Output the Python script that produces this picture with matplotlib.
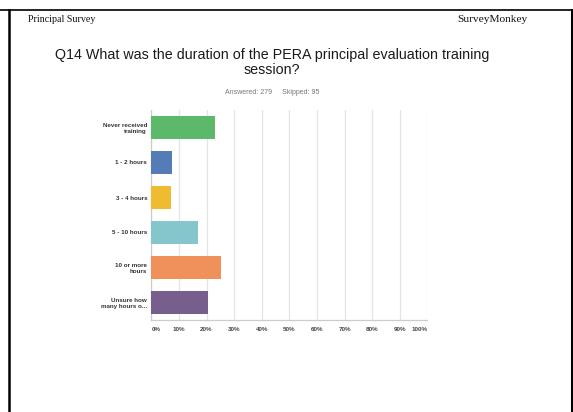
import matplotlib
matplotlib.use("Agg")
import matplotlib.pyplot as plt
from matplotlib.lines import Line2D

# Q14 response shares (answered 279, skipped 95)
answers = ["Never received\ntraining", "1 - 2 hours", "3 - 4 hours",
           "5 - 10 hours", "10 or more\nhours", "Unsure how\nmany hours o..."]
shares = [22.94, 7.53, 7.17, 16.85, 25.09, 20.43]
bar_colors = ["#5cb86b", "#547cb6", "#efbc31", "#84c6cb", "#f0915b", "#765f8c"]
pct_ticks = [0, 10, 20, 30, 40, 50, 60, 70, 80, 90, 100]

W, H = 573, 412
fig = plt.figure(figsize=(W / 100, H / 100), dpi=100)

# page frame
fig.add_artist(Line2D([0, 1], [1 - 10 / H, 1 - 10 / H], transform=fig.transFigure,
                      color="black", lw=1.2))
fig.add_artist(Line2D([8.5 / W, 8.5 / W], [0, 1 - 10 / H], transform=fig.transFigure,
                      color="black", lw=1.8))
fig.add_artist(Line2D([571.5 / W, 571.5 / W], [0, 1 - 10 / H], transform=fig.transFigure,
                      color="black", lw=2.2))

# page header
fig.text(28 / W, 1 - 19 / H, "Principal Survey", family="Liberation Serif",
         fontsize=7.2, ha="left", va="center", color="#111111")
fig.text(528 / W, 1 - 19 / H, "SurveyMonkey", family="Liberation Serif",
         fontsize=8.2, ha="right", va="center", color="#111111")

fig.text(272 / W, 1 - 55 / H,
         "Q14 What was the duration of the PERA principal evaluation training",
         family="Liberation Sans", fontsize=10.3, ha="center", va="center", color="#1a1a1a")
fig.text(272 / W, 1 - 70 / H, "session?",
         family="Liberation Sans", fontsize=10.3, ha="center", va="center", color="#1a1a1a")
fig.text(272 / W, 1 - 92 / H, "Answered: 279     Skipped: 95",
         family="Liberation Sans", fontsize=5.0, ha="center", va="center", color="#777777")

ax = fig.add_axes([151.3 / W, 1 - 320 / H, 276 / W, 210 / H])
ypos = list(range(len(answers)))
ax.barh(ypos, shares, height=0.67, color=bar_colors, zorder=3)
ax.set_xlim(0, 100)
ax.set_ylim(len(answers) - 0.5, -0.5)

ax.set_xticks(pct_ticks)
ax.grid(axis="x", color="#e4e4e4", lw=0.9, zorder=0)
ax.tick_params(length=0, pad=5)
ax.set_xticklabels([f"{t}%" for t in pct_ticks], fontsize=4.5, fontweight="bold",
                   color="#444444", family="Liberation Sans")
xl = ax.get_xticklabels()
xl[0].set_ha("left")
xl[-1].set_ha("right")

ax.set_yticks(ypos)
ax.set_yticklabels(answers, fontsize=4.5, fontweight="bold", color="#333333",
                   family="Liberation Sans", linespacing=1.25)
ax.tick_params(axis="y", pad=3)

for side in ["top", "right"]:
    ax.spines[side].set_visible(False)
for side in ["left", "bottom"]:
    ax.spines[side].set_color("#cccccc")
    ax.spines[side].set_linewidth(0.9)

fig.savefig("out.png", dpi=100)
